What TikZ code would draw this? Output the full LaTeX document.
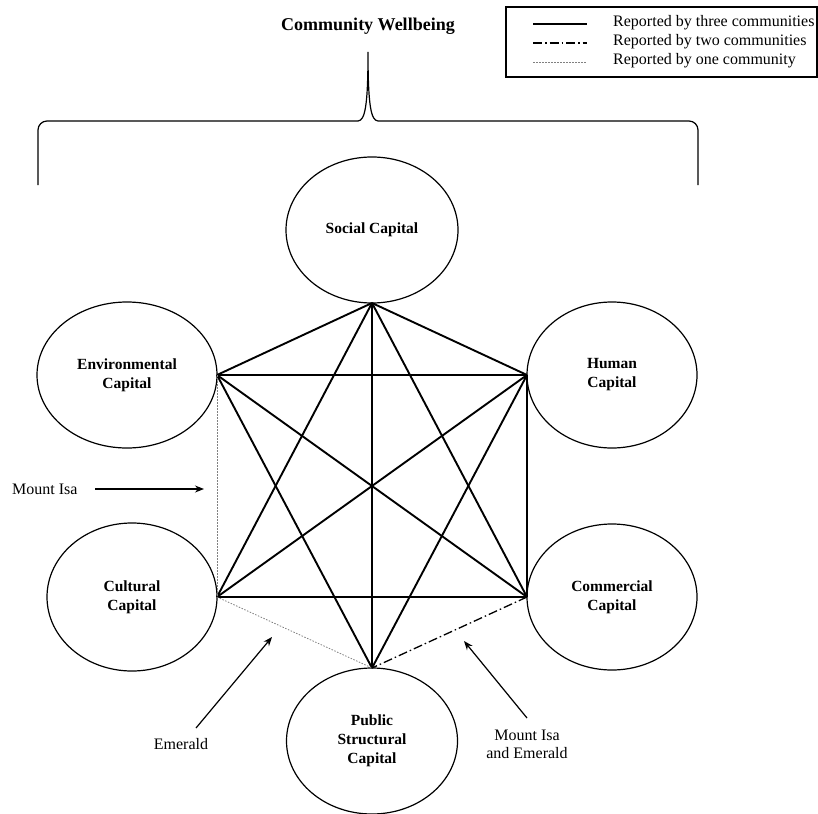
\documentclass[tikz,border=0pt]{standalone}
\usepackage{fontspec}
\setmainfont{Liberation Serif}
\usetikzlibrary{shapes.geometric,arrows.meta}
\begin{document}
\begin{tikzpicture}[x=1pt,y=-1pt,
  capbox/.style={ellipse,draw,line width=1.2pt,inner sep=0pt,outer sep=0pt,
    align=center,font=\fontsize{15.5}{19}\selectfont\bfseries},
  three/.style={line width=1.9pt},
  two/.style={line width=1.3pt,dash pattern=on 9pt off 3pt on 1.5pt off 3pt},
  one/.style={line width=0.8pt,gray,dash pattern=on 1.5pt off 1.5pt},
  lbl/.style={font=\fontsize{16}{18}\selectfont,inner sep=0pt,align=center},
  pointer/.style={line width=1.2pt,-{Stealth[length=9pt,width=7pt]}}]
\useasboundingbox (0,0) rectangle (818,813);
\fill[white] (0,0) rectangle (818,813);

% title and brace
\node[font=\fontsize{18}{20}\selectfont\bfseries] (title) at (368,26) {Community Wellbeing};
\draw[line width=1.2pt,rounded corners=9pt] (38,185) -- (38,121) -- (358,121);
\draw[line width=1.2pt] (358,121) .. controls (365,120.5) and (368,106) .. (368,52)
  .. controls (368,106) and (371,120.5) .. (378,121);
\draw[line width=1.2pt,rounded corners=9pt] (378,121) -- (698,121) -- (698,185);

% legend
\draw[line width=1.2pt] (506,7) rectangle (817,77);
\draw[three] (533,24) -- (587,24);
\draw[two] (533,43) -- (587,43);
\draw[one] (533,62) -- (587,62);
\node[lbl,anchor=west] (l1) at (613,23) {Reported by three communities};
\node[lbl,anchor=west] (l2) at (613,42) {Reported by two communities};
\node[lbl,anchor=west] (l3) at (613,61) {Reported by one community};

% capitals
\node[capbox,minimum width=172pt,minimum height=146pt] (soc) at (372,230) {Social Capital};
\node[capbox,minimum width=180pt,minimum height=146pt] (env) at (127,375) {Environmental\\Capital};
\node[capbox,minimum width=170pt,minimum height=146pt] (hum) at (612,375) {Human\\Capital};
\node[capbox,minimum width=170pt,minimum height=148pt] (cul) at (132,597) {Cultural\\Capital};
\node[capbox,minimum width=170pt,minimum height=146pt] (com) at (612,597) {Commercial\\Capital};
\node[capbox,minimum width=171pt,minimum height=146pt] (pub) at (372,741) {Public\\Structural\\Capital};

% links
\draw[three] (soc.south) -- (env.east);
\draw[three] (soc.south) -- (hum.west);
\draw[three] (soc.south) -- (cul.east);
\draw[three] (soc.south) -- (com.west);
\draw[three] (soc.south) -- (pub.north);
\draw[three] (env.east) -- (hum.west);
\draw[three] (env.east) -- (com.west);
\draw[three] (env.east) -- (pub.north);
\draw[three] (hum.west) -- (cul.east);
\draw[three] (hum.west) -- (com.west);
\draw[three] (hum.west) -- (pub.north);
\draw[three] (cul.east) -- (com.west);
\draw[one] (env.east) -- (cul.east);
\draw[one] (cul.east) -- (pub.north);
\draw[two] (com.west) -- (pub.north);

% annotations
\node[lbl,anchor=west] (mi) at (12,489) {Mount Isa};
\coordinate (mis) at (95,489);
\coordinate (mit) at (204,489);
\draw[pointer] (mis) -- (mit);
\node[lbl] (em) at (181,744) {Emerald};
\coordinate (ems) at (196,728);
\coordinate (emt) at (272,637);
\draw[pointer] (ems) -- (emt);
\node[lbl] (mie) at (527,744) {Mount Isa\\and Emerald};
\coordinate (mies) at (527,718);
\coordinate (miet) at (464,641);
\draw[pointer] (mies) -- (miet);
\end{tikzpicture}
\end{document}
